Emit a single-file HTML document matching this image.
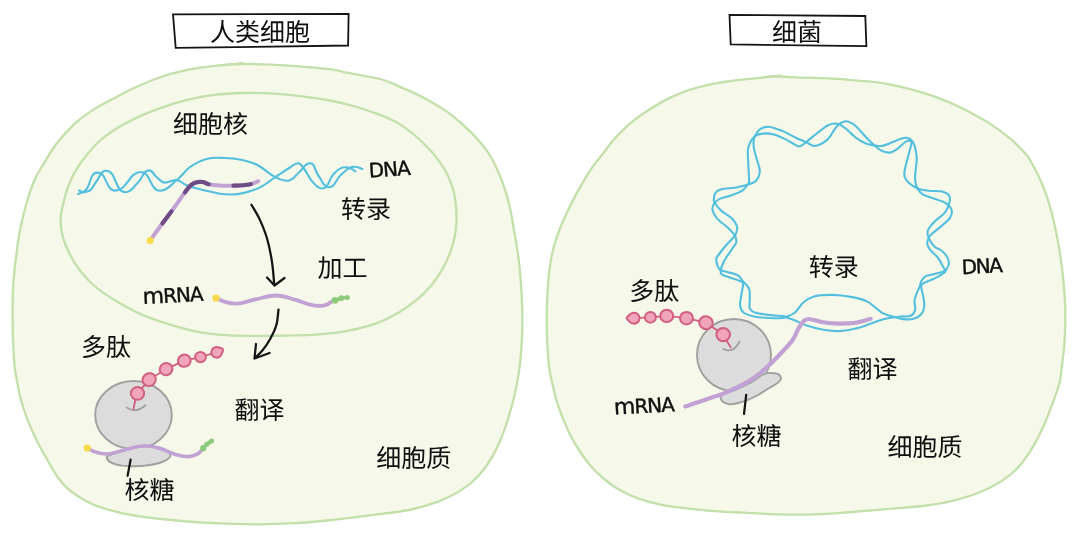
<!DOCTYPE html>
<html lang="zh-CN">
<head>
<meta charset="utf-8">
<title>转录与翻译：人类细胞与细菌</title>
<style>
html,body{margin:0;padding:0;background:#fff;}
body{width:1080px;height:535px;overflow:hidden;}
svg{display:block;will-change:transform;text-rendering:geometricPrecision;}
.zh{font-family:"Liberation Sans","Noto Sans CJK SC",sans-serif;fill:#0f0f0f;}
.hw{font-family:"DejaVu Sans","Liberation Sans",sans-serif;fill:#0f0f0f;stroke:#0f0f0f;stroke-width:0.4px;stroke-linejoin:round;}
</style>
</head>
<body>
<svg width="1080" height="535" viewBox="0 0 1080 535">
<rect width="1080" height="535" fill="#ffffff"/>
<path d="M242.1 64.0C232.8 64.2 223.4 64.9 214.1 65.9C204.8 66.9 195.4 68.2 186.1 70.2C176.8 72.2 167.2 74.8 158.0 78.0C148.8 81.2 138.5 86.0 130.8 89.5C123.2 93.0 118.3 96.0 112.1 99.3C105.9 102.6 99.7 105.5 93.5 109.6C87.3 113.6 81.0 117.8 74.8 123.6C68.6 129.4 61.4 137.3 56.1 144.2C50.8 151.1 46.6 158.8 43.0 164.8C39.4 170.8 37.4 173.4 34.6 180.0C31.8 186.6 28.7 195.6 26.2 204.3C23.7 213.0 21.3 223.3 19.6 232.3C17.9 241.3 16.8 251.4 15.9 258.5C15.0 265.6 14.5 268.4 14.0 275.0C13.5 281.6 12.9 289.5 12.7 298.0C12.5 306.5 12.6 317.4 12.7 326.1C12.8 334.8 13.1 343.1 13.5 350.4C13.9 357.7 14.4 365.1 15.0 370.0C15.6 374.9 15.9 375.2 16.8 380.0C17.7 384.8 18.7 391.8 20.6 398.7C22.5 405.6 25.2 413.9 28.0 421.1C30.8 428.3 34.0 434.9 37.4 441.7C40.8 448.5 45.0 455.9 48.6 462.0C52.2 468.1 55.2 473.8 58.7 478.5C62.2 483.2 65.2 486.7 69.9 490.5C74.6 494.3 80.8 498.3 86.7 501.4C92.6 504.4 97.6 506.5 105.4 508.8C113.2 511.1 122.6 513.5 133.5 515.4C144.4 517.3 158.4 518.8 170.8 520.0C183.2 521.2 193.8 522.2 208.2 522.9C222.6 523.6 243.0 524.2 257.4 524.3C271.8 524.3 282.4 523.9 294.8 523.2C307.2 522.5 319.7 521.3 332.1 520.0C344.6 518.7 356.7 517.1 369.5 515.4C382.3 513.7 397.6 512.3 409.0 510.0C420.4 507.7 429.3 505.0 438.0 501.7C446.7 498.4 454.4 494.4 461.2 490.1C468.0 485.8 473.3 481.5 478.6 475.7C483.9 469.9 488.7 463.1 493.0 455.4C497.3 447.7 501.2 438.5 504.6 429.3C508.0 420.1 511.1 408.5 513.3 400.3C515.5 392.1 516.4 386.6 517.6 380.0C518.8 373.4 519.6 368.3 520.4 360.4C521.2 352.4 521.9 341.0 522.2 332.3C522.5 323.6 522.4 316.4 522.2 308.0C522.0 299.6 521.6 290.9 520.9 282.0C520.2 273.1 519.2 263.2 518.1 254.9C517.0 246.6 515.8 240.3 514.4 232.4C513.0 224.5 511.4 214.2 509.9 207.3C508.4 200.4 507.3 196.5 505.4 190.8C503.5 185.1 501.3 178.9 498.7 172.9C496.1 166.9 493.2 160.6 489.7 155.0C486.2 149.4 481.9 144.2 477.8 139.5C473.7 134.8 470.3 131.4 465.2 126.8C460.1 122.2 454.0 116.6 447.3 111.9C440.6 107.2 432.4 102.4 424.9 98.4C417.4 94.4 409.9 91.1 402.4 87.9C394.9 84.7 389.6 81.6 380.0 79.0C370.4 76.4 353.3 74.0 345.0 72.3C336.7 70.6 337.8 70.1 330.0 69.1C322.2 68.1 308.2 67.2 298.2 66.4C288.2 65.7 279.6 65.0 270.2 64.6C260.8 64.2 251.4 63.8 242.1 64.0Z" fill="#f6f8e9" stroke="#c3dfaa" stroke-width="2.3"/>
<path d="M242.1 93.0C232.8 93.2 223.4 93.7 214.1 94.9C204.8 96.1 195.4 97.8 186.1 100.1C176.8 102.4 167.3 105.4 158.0 108.9C148.7 112.4 138.9 116.4 130.0 121.0C121.1 125.6 111.7 131.3 104.7 136.7C97.7 142.1 92.9 147.7 87.9 153.6C82.9 159.5 78.1 166.6 74.8 172.2C71.5 177.8 69.7 182.6 68.0 187.0C66.3 191.4 65.7 193.6 64.5 198.7C63.3 203.8 61.0 211.2 60.7 217.4C60.4 223.6 61.0 229.9 62.6 236.1C64.2 242.3 67.4 249.4 70.1 254.8C72.8 260.2 74.6 263.5 78.5 268.5C82.4 273.5 87.9 280.0 93.5 285.0C99.1 290.0 104.3 293.7 112.1 298.5C119.9 303.3 131.4 309.9 140.4 314.0C149.4 318.1 156.6 320.4 166.0 323.3C175.4 326.2 188.0 329.8 197.0 331.7C206.0 333.6 211.2 334.1 220.0 334.8C228.8 335.5 238.8 335.7 250.0 335.8C261.2 335.9 276.7 335.7 287.5 335.5C298.3 335.3 305.4 335.3 315.0 334.6C324.6 333.9 334.9 333.1 344.9 331.3C354.9 329.5 366.1 326.8 374.8 323.8C383.5 320.8 390.2 317.4 397.2 313.4C404.2 309.4 410.9 304.6 416.6 299.9C422.3 295.2 427.5 289.9 431.6 285.0C435.8 280.1 438.6 275.7 441.5 270.7C444.4 265.7 447.1 260.5 449.3 254.9C451.5 249.3 453.4 242.7 454.6 236.9C455.8 231.1 456.5 226.2 456.6 220.0C456.7 213.8 456.1 205.7 455.3 199.8C454.5 194.0 453.3 189.9 451.6 184.9C449.9 179.9 447.8 174.9 444.9 169.9C442.0 164.9 438.2 159.7 434.4 155.0C430.6 150.3 426.0 145.8 421.9 141.8C417.8 137.9 414.4 134.7 409.9 131.3C405.4 127.9 400.0 124.3 395.0 121.6C390.0 118.9 386.7 117.4 380.0 114.9C373.3 112.4 363.3 108.9 355.0 106.5C346.7 104.1 339.5 102.3 330.0 100.5C320.5 98.7 308.2 97.0 298.2 95.8C288.2 94.6 279.6 93.9 270.2 93.4C260.8 92.9 251.4 92.8 242.1 93.0Z" fill="none" stroke="#c3dfaa" stroke-width="2.3"/>
<path d="M227 64.3L243 62.9" fill="none" stroke="#c3dfaa" stroke-width="1.6" stroke-linecap="round"/>
<path d="M78.2 194.0C81.2 192.4 83.7 192.3 86.0 189.8C91.3 184.0 89.6 172.6 97.5 172.6C107.1 172.6 105.6 190.6 115.2 190.6C127.2 190.6 128.8 172.0 140.8 172.0C151.0 172.0 149.8 190.7 160.0 190.7C167.6 190.7 171.0 184.7 177.0 180.0C182.5 175.7 184.3 171.0 190.0 167.0C196.1 162.8 200.4 160.5 207.6 158.7C214.0 157.1 218.4 158.0 225.0 158.0C231.7 158.0 235.9 158.6 242.4 160.0C248.3 161.3 252.1 162.2 257.4 165.0C264.7 168.8 268.0 173.3 275.3 177.1C279.6 179.4 282.7 180.8 287.5 180.8C292.9 180.8 294.8 175.8 299.0 172.5C303.3 169.1 304.5 163.2 310.0 163.2C315.4 163.2 314.6 170.8 318.0 175.0C322.0 179.9 323.1 187.2 329.5 187.2C335.3 187.2 335.6 180.0 339.8 176.0C343.4 172.5 345.6 169.9 350.0 167.6C352.4 166.4 354.4 166.6 357.0 167.0C359.1 167.3 360.3 168.2 362.3 169.0" fill="none" stroke="#53bfde" stroke-width="2.1" stroke-linecap="round" stroke-linejoin="round"/>
<path d="M79.0 190.4C80.3 191.1 81.0 192.1 82.5 192.2C84.6 192.4 85.9 191.6 88.0 191.2C92.6 190.4 92.9 185.5 96.0 182.0C99.8 177.7 100.3 170.8 106.0 170.8C117.0 170.8 114.5 192.2 125.5 192.2C131.5 192.2 133.6 186.6 138.0 182.5C142.6 178.3 143.0 170.4 149.3 170.4C152.7 170.4 153.3 174.4 156.0 176.5C159.3 179.0 160.9 182.6 165.0 182.6C169.6 182.6 172.3 179.7 176.9 180.2C180.8 180.6 182.4 183.5 186.0 185.0C190.1 186.7 192.8 187.5 197.1 188.6C205.7 190.8 211.2 192.2 220.0 193.7C224.5 194.5 227.4 194.5 232.0 194.5C241.9 194.5 248.2 192.3 257.4 188.6C264.9 185.6 268.5 181.5 275.3 177.1C280.9 173.5 284.3 171.0 290.0 167.5C292.9 165.7 294.5 163.2 298.0 163.2C301.4 163.2 302.4 166.8 304.5 169.5C308.1 174.1 309.0 178.1 313.0 182.4C315.8 185.4 317.9 188.5 322.0 188.5C329.1 188.5 328.5 178.9 333.6 174.0C337.1 170.6 339.6 167.2 344.5 167.2C347.0 167.2 348.7 167.6 351.0 168.5C352.9 169.2 353.8 170.4 355.5 171.5" fill="none" stroke="#53bfde" stroke-width="2.1" stroke-linecap="round" stroke-linejoin="round"/>
<path d="M150.2 240.3C152.2 237.5 158.9 228.2 162.4 223.4C165.9 218.6 167.7 216.6 171.4 211.4C175.2 206.2 181.7 196.8 184.9 192.4C188.2 188.0 188.9 186.9 190.9 185.2C192.9 183.5 194.8 182.7 196.8 182.2C198.8 181.7 200.8 181.7 202.8 182.0C204.8 182.3 205.8 183.6 208.8 184.2C211.8 184.8 216.7 185.3 220.8 185.6C224.9 185.8 228.5 185.9 233.5 185.7C238.5 185.5 246.6 184.9 250.7 184.2C254.8 183.4 256.9 181.7 258.2 181.2" fill="none" stroke="#c2a2d4" stroke-width="4" stroke-linecap="round" stroke-linejoin="round"/>
<path d="M162.4 223.4C165.9 218.6 167.7 216.6 171.4 211.4" fill="none" stroke="#6f4c85" stroke-width="4.2" stroke-linecap="round" stroke-linejoin="round"/>
<path d="M184.9 192.4C188.2 188.0 188.9 186.9 190.9 185.2C192.9 183.5 194.8 182.7 196.8 182.2C198.8 181.7 200.8 181.7 202.8 182.0C204.8 182.3 205.8 183.6 208.8 184.2" fill="none" stroke="#6f4c85" stroke-width="4.2" stroke-linecap="round" stroke-linejoin="round"/>
<path d="M233.5 185.7C238.5 185.5 246.6 184.9 250.7 184.2" fill="none" stroke="#6f4c85" stroke-width="4.2" stroke-linecap="round" stroke-linejoin="round"/>
<circle cx="150.2" cy="240.4" r="3.5" fill="#f8d94a"/>
<path d="M251.4 204.7C252.8 207.1 257.1 213.7 259.7 219.4C262.3 225.1 265.1 231.7 267.1 238.8C269.2 245.9 270.8 254.3 272.0 262.0C273.2 269.7 273.9 281.2 274.3 285.0" fill="none" stroke="#141414" stroke-width="2.25" stroke-linecap="round"/>
<path d="M267 277.5L274.5 285.5L284.5 278" fill="none" stroke="#141414" stroke-width="2.25" stroke-linecap="round" stroke-linejoin="round"/>
<path d="M216.5 298.3C220.1 299.8 222.2 301.2 226.0 302.2C229.7 303.2 232.1 303.7 235.9 303.7C243.5 303.7 247.9 300.9 255.3 299.4C263.3 297.8 268.2 295.5 276.3 295.5C283.9 295.5 288.4 297.9 295.7 299.9C301.2 301.4 304.5 303.2 310.0 304.6C313.6 305.5 315.9 305.9 319.6 305.9C322.5 305.9 324.3 305.6 327.0 304.6C329.1 303.8 330.1 302.5 332.0 301.2" fill="none" stroke="#c2a2d4" stroke-width="3.8" stroke-linecap="round"/>
<circle cx="216" cy="298.1" r="3.6" fill="#f8d94a"/>
<path d="M335 300.4L341.3 298.1L347.3 297.4" fill="none" stroke="#8ecb7c" stroke-width="3.4" stroke-linecap="round" stroke-linejoin="round"/>
<circle cx="335.0" cy="300.4" r="3.3" fill="#8ecb7c"/>
<circle cx="341.3" cy="298.1" r="2.9" fill="#8ecb7c"/>
<circle cx="347.3" cy="297.4" r="2.5" fill="#8ecb7c"/>
<path d="M278.5 309.6C278.1 312.2 277.7 320.4 276.3 325.3C274.9 330.2 272.6 334.7 270.3 338.8C268.1 342.9 265.4 346.8 262.8 350.0C260.2 353.2 256.3 356.7 255.0 358.0" fill="none" stroke="#141414" stroke-width="2.25" stroke-linecap="round"/>
<path d="M256 344L254.5 358.5L269.5 353" fill="none" stroke="#141414" stroke-width="2.25" stroke-linecap="round" stroke-linejoin="round"/>
<ellipse cx="133.5" cy="415" rx="38.3" ry="34" fill="#dcdcdc" stroke="#a0a0a0" stroke-width="1.9"/>
<path d="M106.8 456.5C112 453.5 122 450.8 129.8 448.8C136 447.2 141 446.3 144.8 446.3C150 446.3 155 447.2 159.7 448.7C164 450.2 168 451.8 170.3 454C171.3 458 165 462.5 150 465C140 466.5 130 466.6 122 465.6C112 464 106.2 461.5 106.8 456.5Z" fill="#dcdcdc" stroke="#a0a0a0" stroke-width="1.9"/>
<path d="M87.5 448.4C91.1 450.0 93.2 451.5 97.0 452.6C100.3 453.6 102.5 454.0 106.0 454.0C115.3 454.0 120.7 450.3 129.8 448.4C135.5 447.2 139.0 445.7 144.8 445.7C150.5 445.7 154.2 446.6 159.7 448.2C165.6 449.9 168.8 452.5 174.7 454.2C179.7 455.7 182.9 456.6 188.1 456.6C191.6 456.6 193.9 455.7 197.1 454.2C199.5 453.1 200.3 451.4 202.3 449.7" fill="none" stroke="#c2a2d4" stroke-width="3.6" stroke-linecap="round"/>
<circle cx="87.2" cy="448.1" r="3.6" fill="#f8d94a"/>
<path d="M203.3 448.2L206.8 444.3L211.6 440.9" fill="none" stroke="#8ecb7c" stroke-width="3.2" stroke-linecap="round" stroke-linejoin="round"/>
<circle cx="203.3" cy="448.2" r="3.1" fill="#8ecb7c"/>
<circle cx="206.8" cy="444.3" r="2.6" fill="#8ecb7c"/>
<circle cx="209.3" cy="442.6" r="2.2" fill="#8ecb7c"/>
<circle cx="211.6" cy="440.9" r="2.5" fill="#8ecb7c"/>
<path d="M126.7 407.6Q135.5 414 145.4 405.3" fill="none" stroke="#a0a0a0" stroke-width="1.8" stroke-linecap="round"/>
<path d="M135.5 399L133.5 409" fill="none" stroke="#d15f7f" stroke-width="1.8" stroke-linecap="round"/>
<path d="M217.0 352.2L200.5 357.1L184.3 360.7L166.1 369.1L149.2 379.6L137.5 393.4" fill="none" stroke="#d15f7f" stroke-width="1.8"/>
<path d="M222.9 349.4C223.5 350.7 222.0 353.4 221.4 354.6C220.8 355.9 220.0 356.6 219.1 357.1C218.1 357.6 216.8 357.8 215.8 357.6C214.7 357.5 213.5 356.8 212.8 356.1C212.0 355.3 211.5 354.1 211.3 353.0C211.2 352.0 211.5 350.7 212.0 349.8C212.5 348.8 213.6 347.9 214.5 347.5C215.5 347.1 216.5 346.9 217.9 347.3C219.3 347.6 222.4 348.2 222.9 349.4Z" fill="#f0a5bc" stroke="#d15f7f" stroke-width="2" stroke-linejoin="round"/>
<ellipse cx="200.5" cy="357.1" rx="5.4" ry="5.2" transform="rotate(0 200.5 357.1)" fill="#f0a5bc" stroke="#d15f7f" stroke-width="2"/>
<ellipse cx="184.3" cy="360.7" rx="6.4" ry="6.1" transform="rotate(-20 184.3 360.7)" fill="#f0a5bc" stroke="#d15f7f" stroke-width="2"/>
<ellipse cx="166.1" cy="369.1" rx="6.4" ry="6.0" transform="rotate(-25 166.1 369.1)" fill="#f0a5bc" stroke="#d15f7f" stroke-width="2"/>
<ellipse cx="149.2" cy="379.6" rx="6.8" ry="6.3" transform="rotate(-30 149.2 379.6)" fill="#f0a5bc" stroke="#d15f7f" stroke-width="2"/>
<ellipse cx="137.5" cy="393.4" rx="6.6" ry="6.4" transform="rotate(0 137.5 393.4)" fill="#f0a5bc" stroke="#d15f7f" stroke-width="2"/>
<path d="M130.6 459.7L127.6 475.8" stroke="#141414" stroke-width="2.2" stroke-linecap="round"/>
<path d="M779.8 76.5C773.6 76.4 772.9 76.6 766.7 77.1C760.5 77.6 749.5 78.8 742.4 79.6C735.3 80.4 729.7 81.1 724.0 82.0C718.3 82.9 714.0 83.5 708.2 84.8C702.5 86.1 695.7 87.8 689.5 89.9C683.3 92.0 677.0 94.4 670.8 97.4C664.6 100.4 658.3 103.8 652.1 107.7C645.9 111.6 639.7 115.6 633.5 120.7C627.3 125.8 619.4 133.6 614.8 138.5C610.2 143.4 608.6 146.4 605.8 150.0C603.0 153.6 600.4 156.8 597.9 160.0C595.4 163.2 594.2 164.1 590.8 169.4C587.4 174.7 581.4 184.7 577.4 191.9C573.4 199.1 569.9 206.5 566.9 212.8C563.9 219.2 561.8 223.5 559.4 230.0C557.0 236.5 554.1 245.3 552.5 251.9C550.9 258.5 550.2 265.1 549.5 269.8C548.8 274.5 548.8 273.6 548.4 280.0C548.0 286.4 547.1 299.3 546.9 308.0C546.6 316.7 546.6 323.6 546.9 332.3C547.1 341.0 547.9 353.8 548.4 360.4C548.9 367.0 549.2 367.9 549.9 372.0C550.6 376.1 551.5 379.9 552.7 385.0C553.9 390.1 555.3 396.9 557.2 402.9C559.1 408.9 561.7 415.4 563.9 420.8C566.1 426.2 568.0 430.6 570.5 435.5C573.0 440.4 575.7 445.1 578.9 450.0C582.1 454.9 585.9 460.2 589.9 464.9C593.9 469.6 598.0 473.8 603.0 478.0C608.0 482.2 613.9 486.7 619.8 490.1C625.7 493.5 631.3 496.1 638.5 498.6C645.7 501.1 654.1 503.4 662.8 505.1C671.5 506.8 681.4 507.8 690.8 508.8C700.1 509.8 710.2 510.7 718.9 511.3C727.6 511.9 733.2 512.1 743.0 512.6C752.8 513.1 765.4 514.1 777.4 514.4C789.4 514.7 802.3 514.8 814.8 514.4C827.2 514.0 839.6 512.9 852.1 512.0C864.6 511.1 877.7 509.8 889.5 508.8C901.3 507.8 913.1 507.2 923.0 506.0C932.9 504.8 939.8 503.9 949.0 501.7C958.2 499.5 969.3 496.4 978.0 493.0C986.7 489.6 994.4 485.7 1001.2 481.4C1008.0 477.1 1013.3 472.8 1018.6 467.0C1023.9 461.2 1028.7 453.9 1033.0 446.7C1037.3 439.4 1041.0 431.7 1044.6 423.5C1048.2 415.3 1052.2 404.6 1054.8 397.4C1057.4 390.1 1059.0 385.5 1060.2 380.0C1061.4 374.5 1061.4 370.2 1062.1 364.3C1062.8 358.4 1063.8 351.9 1064.3 344.9C1064.8 337.9 1065.2 329.9 1065.3 322.4C1065.4 314.9 1065.3 307.9 1064.9 300.0C1064.5 292.1 1063.7 282.8 1062.8 274.9C1061.9 267.0 1060.8 259.2 1059.8 252.4C1058.8 245.6 1057.9 240.7 1056.5 234.0C1055.1 227.3 1053.4 219.2 1051.6 212.3C1049.8 205.5 1047.8 199.1 1045.6 192.9C1043.3 186.7 1040.7 180.5 1038.1 175.0C1035.5 169.5 1032.0 163.5 1030.0 160.0C1028.0 156.5 1029.0 157.6 1025.8 154.1C1022.6 150.6 1016.4 144.0 1010.8 139.2C1005.2 134.4 999.9 130.1 992.1 125.1C984.3 120.1 973.4 114.0 964.1 109.3C954.8 104.6 945.5 100.5 936.1 97.1C926.8 93.7 916.7 91.0 908.0 88.7C899.3 86.4 892.0 84.7 884.0 83.4C876.0 82.1 868.9 81.6 860.2 80.8C851.6 80.0 841.5 79.1 832.1 78.6C822.8 78.1 812.8 78.0 804.1 77.7C795.4 77.4 786.0 76.6 779.8 76.5Z" fill="#f6f8e9" stroke="#c3dfaa" stroke-width="2.3"/>
<path d="M765 76.5L780.5 75.2" fill="none" stroke="#c3dfaa" stroke-width="1.6" stroke-linecap="round"/>
<path d="M747.9 150.0C748.3 145.2 749.9 143.2 751.0 141.0C752.1 138.8 753.1 138.4 754.6 136.5C756.1 134.6 757.4 131.0 759.8 129.4C762.2 127.8 765.1 126.5 768.8 126.7C772.5 127.0 777.7 129.1 782.2 130.9C786.7 132.7 791.7 135.8 795.7 137.7C799.7 139.6 803.0 140.7 806.2 142.1C809.4 143.5 811.6 146.3 815.1 145.9C818.6 145.5 823.9 142.7 827.1 139.9C830.4 137.2 832.6 132.0 834.6 129.4C836.6 126.8 837.0 125.6 839.0 124.2C841.0 122.8 843.7 121.0 846.4 121.2C849.1 121.5 852.4 123.3 855.4 125.7C858.4 128.1 861.4 132.3 864.4 135.4C867.4 138.5 870.7 141.9 873.4 144.4C876.1 146.9 878.1 149.0 880.8 150.4C883.5 151.8 887.0 152.8 889.8 152.6C892.5 152.3 894.5 150.8 897.3 148.9C900.0 147.0 903.9 142.5 906.3 141.4C908.7 140.3 911.0 140.3 911.5 142.1C912.0 143.8 910.4 147.3 909.3 151.9C908.2 156.5 905.5 165.6 904.8 169.8C904.0 174.0 904.0 175.1 904.8 177.3C905.5 179.6 907.2 181.4 909.3 183.3C911.4 185.2 914.3 187.3 917.5 188.5C920.7 189.7 924.6 190.2 928.7 190.7C932.8 191.2 938.7 190.7 942.1 191.4C945.5 192.2 947.6 193.4 948.9 195.2C950.1 196.9 950.2 199.0 949.6 201.9C949.0 204.8 947.6 209.2 945.1 212.4C942.6 215.7 937.6 218.4 934.7 221.4C931.8 224.4 928.9 227.6 927.9 230.3C926.9 233.0 927.6 235.1 928.7 237.8C929.8 240.6 932.7 244.8 934.7 246.8C936.7 248.8 938.7 248.5 940.7 250.0C942.7 251.5 945.2 253.8 946.6 256.0C948.0 258.2 949.0 261.1 948.9 263.5C948.8 265.9 946.8 268.6 945.9 270.2C945.0 271.8 945.5 271.8 943.6 273.2C941.7 274.6 937.7 276.9 934.7 278.4C931.7 279.9 928.0 280.9 925.7 282.1C923.5 283.4 921.6 283.3 921.2 285.9C920.8 288.5 923.0 294.3 923.5 297.8C924.0 301.3 924.6 304.1 924.2 306.8C923.8 309.6 923.0 312.3 921.2 314.3C919.5 316.3 916.7 318.0 913.7 318.8C910.7 319.6 906.3 319.4 903.3 319.1C900.3 318.9 899.3 318.4 895.8 317.3C892.3 316.2 887.0 315.4 882.3 312.8C877.6 310.2 872.4 304.2 867.4 301.6C862.4 299.0 858.3 298.2 852.4 297.1C846.5 296.0 838.5 295.0 832.1 294.9C825.7 294.8 818.9 295.2 814.1 296.4C809.4 297.6 806.8 299.6 803.6 302.3C800.4 305.0 797.7 310.4 794.7 312.8C791.7 315.2 787.7 316.1 785.7 317.0C783.7 317.9 785.4 317.8 782.7 318.0C780.0 318.2 774.0 318.2 769.3 318.0C764.6 317.8 758.5 317.4 754.3 316.5C750.0 315.6 746.2 314.7 743.8 312.8C741.4 310.9 740.5 308.5 740.1 305.3C739.7 302.1 741.1 297.0 741.6 293.4C742.1 289.8 743.5 285.7 743.1 283.6C742.7 281.5 741.4 281.7 739.3 280.7C737.2 279.7 733.3 278.7 730.4 277.7C727.5 276.7 723.7 275.9 722.1 274.7C720.5 273.4 720.3 272.6 720.7 270.2C721.1 267.8 722.9 263.5 724.4 260.5C725.9 257.5 728.1 254.8 730.0 252.0C731.9 249.2 734.4 245.9 735.5 244.0C736.6 242.1 736.5 242.2 736.4 240.8C736.3 239.4 736.4 237.8 734.9 235.6C733.4 233.3 730.4 230.2 727.4 227.3C724.4 224.4 719.4 221.4 716.9 218.4C714.4 215.4 712.8 212.0 712.4 209.4C712.0 206.8 713.5 204.4 714.7 202.7C716.0 200.9 717.0 200.2 719.9 198.9C722.8 197.7 728.2 196.6 731.9 195.2C735.6 193.8 739.7 192.4 742.3 190.7C744.9 188.9 746.5 186.3 747.6 184.7C748.7 183.1 748.9 183.4 749.1 181.0C749.3 178.6 748.8 175.2 748.6 170.0C748.4 164.8 747.5 154.8 747.9 150.0Z" fill="none" stroke="#53bfde" stroke-width="2.1" stroke-linejoin="round"/>
<path d="M753.8 147.4C753.4 143.7 753.1 139.2 754.6 136.9C756.1 134.6 759.4 134.0 762.8 133.6C766.2 133.2 770.8 133.6 774.8 134.7C778.8 135.8 783.2 138.2 786.7 139.9C790.2 141.6 793.5 144.1 795.7 145.1C798.0 146.1 798.5 146.7 800.2 146.2C802.0 145.7 803.2 144.4 806.2 142.1C809.2 139.8 814.4 135.2 818.1 132.4C821.8 129.6 825.4 126.4 828.6 125.0C831.9 123.6 834.9 123.3 837.6 123.8C840.3 124.3 841.8 125.6 845.0 128.0C848.2 130.4 853.4 135.8 856.9 138.4C860.4 141.0 863.1 142.5 865.9 143.6C868.6 144.7 870.7 144.7 873.4 145.1C876.1 145.5 879.1 146.4 882.3 145.9C885.5 145.4 889.5 143.3 892.8 142.1C896.0 140.8 899.3 139.1 901.8 138.4C904.3 137.7 905.9 137.5 907.8 138.1C909.7 138.7 911.6 139.8 913.0 142.1C914.4 144.4 915.4 148.8 916.0 151.9C916.6 155.0 916.8 157.1 916.7 160.8C916.6 164.5 915.4 170.7 915.2 174.3C915.0 177.9 915.1 180.1 915.5 182.5C915.9 184.9 916.3 186.5 917.5 188.5C918.7 190.5 920.1 192.8 922.7 194.4C925.3 196.0 929.7 196.9 933.2 198.2C936.7 199.4 941.0 200.7 943.6 201.9C946.2 203.2 947.5 204.2 948.9 205.7C950.3 207.2 951.8 208.8 951.9 210.9C952.0 213.0 951.5 215.8 949.6 218.4C947.7 221.0 943.7 224.0 940.7 226.6C937.7 229.2 933.7 232.2 931.7 234.1C929.7 236.0 929.5 236.2 928.7 237.8C928.0 239.4 927.0 241.8 927.2 243.8C927.5 245.8 928.5 247.5 930.2 249.8C932.0 252.1 935.6 254.7 937.7 257.5C939.8 260.3 941.8 264.1 942.9 266.4C944.0 268.6 945.8 269.8 944.4 271.0C943.0 272.2 937.8 273.0 934.7 273.9C931.6 274.8 928.0 274.9 925.7 276.2C923.5 277.4 922.2 279.8 921.2 281.4C920.2 283.0 920.8 284.0 920.0 286.0C919.2 288.0 917.6 290.9 916.7 293.4C915.8 295.9 914.8 298.1 914.5 300.8C914.2 303.5 915.8 307.3 915.2 309.8C914.6 312.3 913.2 314.7 910.7 315.8C908.2 316.9 902.8 316.2 900.3 316.5C897.8 316.8 897.7 317.1 895.8 317.3C893.9 317.6 892.1 317.4 889.1 318.0C886.1 318.6 882.6 319.4 877.8 321.0C872.9 322.6 866.1 325.8 860.0 327.5C853.9 329.2 846.9 330.6 841.0 331.0C835.1 331.4 830.3 330.9 824.6 330.0C818.9 329.1 811.6 327.1 806.6 325.5C801.6 323.9 798.2 321.7 794.7 320.3C791.2 318.9 787.7 317.7 785.7 317.0C783.7 316.3 785.4 316.4 782.7 316.1C780.0 315.8 773.8 315.6 769.3 315.0C764.8 314.4 759.0 313.9 755.8 312.8C752.5 311.7 750.8 310.6 749.8 308.3C748.8 306.1 749.9 302.5 749.8 299.3C749.7 296.1 750.2 291.9 749.1 288.9C748.0 285.9 745.0 283.6 743.1 281.4C741.2 279.1 740.3 276.9 737.9 275.4C735.5 273.9 731.8 273.3 728.9 272.4C726.0 271.5 722.6 271.2 720.7 270.2C718.8 269.2 718.5 268.3 717.7 266.4C717.0 264.5 716.1 260.9 716.2 259.0C716.3 257.1 716.5 257.5 718.4 255.0C720.3 252.5 724.6 247.0 727.4 243.8C730.1 240.6 733.3 238.3 734.9 235.6C736.5 232.8 737.6 230.2 737.1 227.3C736.6 224.4 734.5 221.1 731.9 218.4C729.3 215.7 724.3 213.5 721.4 210.9C718.5 208.3 716.0 204.7 714.7 202.7C713.5 200.7 713.8 200.5 713.9 198.9C714.0 197.3 714.1 194.5 715.4 192.9C716.6 191.3 718.1 190.1 721.4 189.2C724.6 188.3 730.5 188.4 734.9 187.7C739.3 186.9 744.1 185.8 747.6 184.7C751.1 183.6 753.8 183.2 755.8 181.0C757.8 178.8 759.6 174.9 759.8 171.3C760.0 167.7 757.8 163.3 756.8 159.3C755.8 155.3 754.2 151.1 753.8 147.4Z" fill="none" stroke="#53bfde" stroke-width="2.1" stroke-linejoin="round"/>
<ellipse cx="734" cy="355" rx="37" ry="36" fill="#dcdcdc" stroke="#a0a0a0" stroke-width="1.9"/>
<path d="M720.8 396.1C720.5 397.5 721.0 400.1 722.5 401.5C724.0 402.9 727.2 404.1 729.8 404.3C732.4 404.6 735.0 403.8 738.0 403.0C741.0 402.2 744.5 401.1 747.8 399.8C751.1 398.5 754.8 396.8 758.0 395.0C761.2 393.2 764.2 391.1 767.2 389.3C770.2 387.5 773.8 385.6 776.0 384.0C778.2 382.4 780.1 381.0 780.7 379.5C781.3 378.0 780.5 376.1 779.5 375.0C778.5 373.9 776.6 373.5 774.7 373.2C772.8 372.9 770.1 372.7 768.0 373.0C765.9 373.3 765.0 373.3 762.0 375.0C759.0 376.7 754.5 380.5 750.0 383.0C745.5 385.5 739.3 388.3 735.0 390.0C730.7 391.7 726.4 392.0 724.0 393.0C721.6 394.0 721.0 394.7 720.8 396.1Z" fill="#dcdcdc" stroke="#a0a0a0" stroke-width="1.9"/>
<path d="M870.6 318.8C869.0 319.2 864.0 320.8 861.0 321.5C858.0 322.2 856.2 322.8 852.4 323.2C848.6 323.6 842.6 323.7 838.0 323.6C833.4 323.5 828.4 323.1 824.6 322.5C820.8 321.9 817.7 320.9 815.0 320.3C812.3 319.7 810.3 319.0 808.5 319.0C806.7 319.0 805.5 319.6 804.3 320.5C803.0 321.4 802.1 322.9 801.0 324.5C799.9 326.1 799.1 327.4 797.7 330.0C796.3 332.6 795.2 336.3 792.6 340.0C790.0 343.7 786.3 347.5 782.1 352.0C777.9 356.5 772.2 362.4 767.2 366.9C762.2 371.4 758.4 374.9 752.2 378.9C746.0 382.9 737.3 387.4 729.8 390.8C722.3 394.2 714.8 396.5 707.4 399.1C700.0 401.7 689.0 405.2 685.3 406.4" fill="none" stroke="#c2a2d4" stroke-width="4.2" stroke-linecap="round" stroke-linejoin="round"/>
<path d="M723.1 349Q733.5 354 739.5 341.5" fill="none" stroke="#a0a0a0" stroke-width="1.8" stroke-linecap="round"/>
<path d="M726.5 340.5L730.7 347.3" fill="none" stroke="#d15f7f" stroke-width="1.8" stroke-linecap="round"/>
<path d="M633.5 318.2L650.4 317.4L666.7 315.9L686.5 318.2L706.0 322.7L723.2 334.6" fill="none" stroke="#d15f7f" stroke-width="1.8"/>
<path d="M626.7 318.2C626.7 316.8 629.3 314.9 630.5 314.0C631.6 313.1 632.6 312.8 633.7 312.7C634.8 312.6 636.2 313.0 637.1 313.6C638.0 314.3 638.8 315.4 639.2 316.4C639.6 317.5 639.6 318.9 639.2 319.9C638.9 320.9 638.1 322.1 637.2 322.7C636.3 323.3 634.9 323.7 633.8 323.7C632.7 323.7 631.7 323.4 630.5 322.5C629.4 321.6 626.8 319.6 626.7 318.2Z" fill="#f0a5bc" stroke="#d15f7f" stroke-width="2" stroke-linejoin="round"/>
<ellipse cx="650.4" cy="317.4" rx="5.5" ry="5.3" transform="rotate(0 650.4 317.4)" fill="#f0a5bc" stroke="#d15f7f" stroke-width="2"/>
<ellipse cx="666.7" cy="315.9" rx="6.5" ry="6.2" transform="rotate(0 666.7 315.9)" fill="#f0a5bc" stroke="#d15f7f" stroke-width="2"/>
<ellipse cx="686.5" cy="318.2" rx="6.5" ry="6.3" transform="rotate(0 686.5 318.2)" fill="#f0a5bc" stroke="#d15f7f" stroke-width="2"/>
<ellipse cx="706.0" cy="322.7" rx="6.8" ry="6.5" transform="rotate(20 706.0 322.7)" fill="#f0a5bc" stroke="#d15f7f" stroke-width="2"/>
<ellipse cx="723.2" cy="334.6" rx="6.8" ry="6.6" transform="rotate(0 723.2 334.6)" fill="#f0a5bc" stroke="#d15f7f" stroke-width="2"/>
<path d="M746.2 394.8L744 414" stroke="#141414" stroke-width="2.2" stroke-linecap="round"/>
<path d="M173 14.3L348.6 13.9L348.1 45.5L175.7 47.9Z" fill="#fff" stroke="#141414" stroke-width="1.8" stroke-linejoin="miter"/>
<path d="M729.5 14.8L865.3 16L866.4 46.2L730.7 44.4Z" fill="#fff" stroke="#141414" stroke-width="1.8" stroke-linejoin="miter"/>
<text x="260.0" y="41.0" font-size="25" text-anchor="middle" class="zh">人类细胞</text>
<text x="797.0" y="41.0" font-size="25" text-anchor="middle" class="zh">细菌</text>
<text x="210.5" y="132.5" font-size="25" text-anchor="middle" class="zh">细胞核</text>
<text x="366.0" y="218.2" font-size="25" text-anchor="middle" class="zh">转录</text>
<text x="342.5" y="276.8" font-size="25" text-anchor="middle" class="zh">加工</text>
<text x="106.0" y="355.8" font-size="25" text-anchor="middle" class="zh">多肽</text>
<text x="259.4" y="419.2" font-size="25" text-anchor="middle" class="zh">翻译</text>
<text x="413.7" y="466.8" font-size="25" text-anchor="middle" class="zh">细胞质</text>
<text x="149.5" y="499.2" font-size="25" text-anchor="middle" class="zh">核糖</text>
<text x="654.3" y="299.6" font-size="25" text-anchor="middle" class="zh">多肽</text>
<text x="833.7" y="276.4" font-size="25" text-anchor="middle" class="zh">转录</text>
<text x="872.5" y="378.4" font-size="25" text-anchor="middle" class="zh">翻译</text>
<text x="925.0" y="456.2" font-size="25" text-anchor="middle" class="zh">细胞质</text>
<text x="756.5" y="444.8" font-size="25" text-anchor="middle" class="zh">核糖</text>
<text x="369.2" y="177.8" font-size="20" letter-spacing="-1.0" class="hw" transform="rotate(-4 369.2 177.8)">DNA</text>
<text x="143.0" y="304.0" font-size="20" letter-spacing="-1.0" class="hw" transform="rotate(-3 143.0 304.0)"><tspan font-size="22">m</tspan>RNA</text>
<text x="962.0" y="274.3" font-size="20" letter-spacing="-1.4" class="hw" transform="rotate(-3 962.0 274.3)">DNA</text>
<text x="614.3" y="414.6" font-size="20" letter-spacing="-1.0" class="hw" transform="rotate(-3 614.3 414.6)"><tspan font-size="22">m</tspan>RNA</text>
</svg>
</body>
</html>
